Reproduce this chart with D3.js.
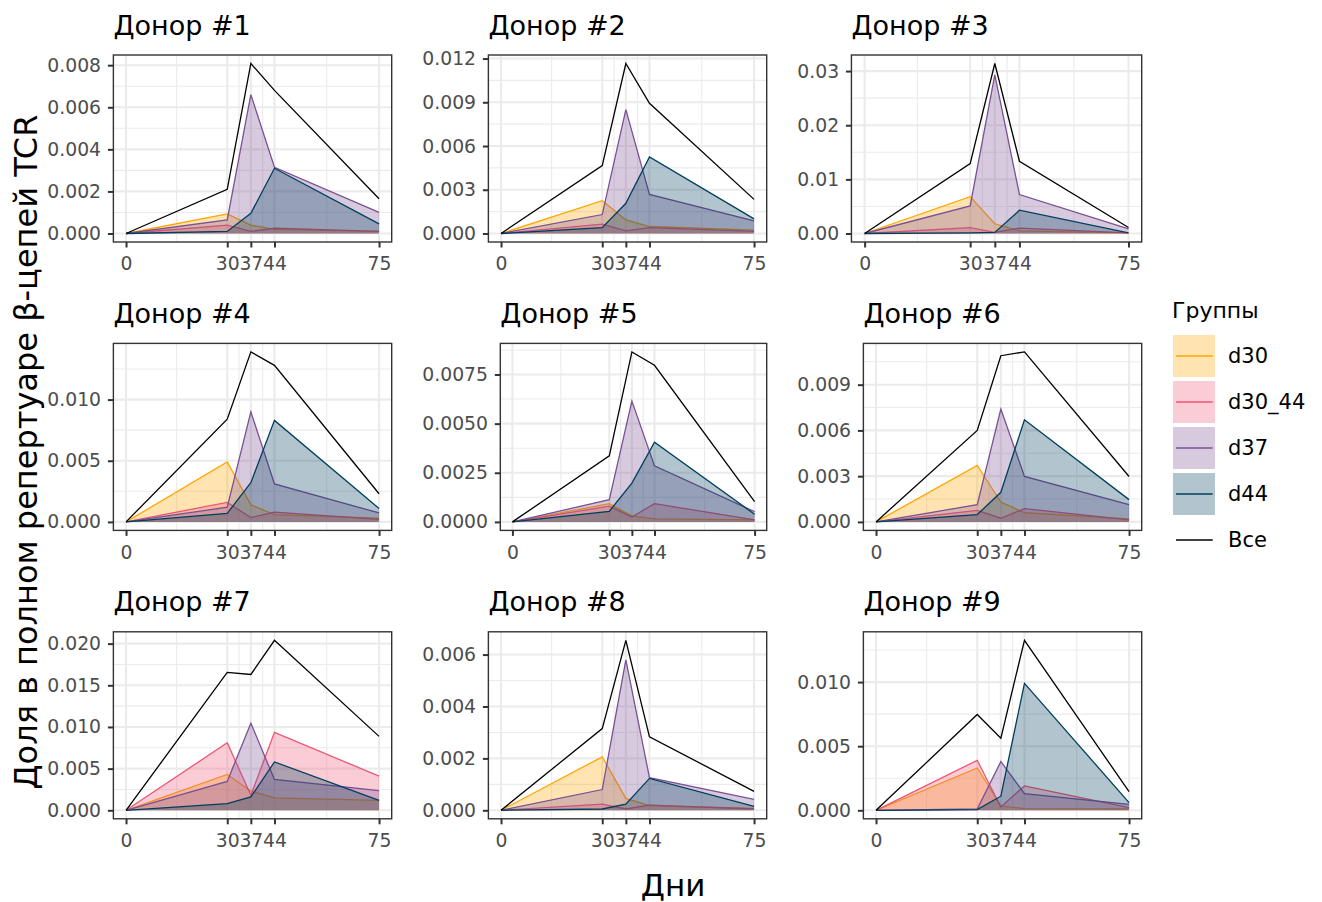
<!DOCTYPE html>
<html>
<head>
<meta charset="utf-8">
<script src="https://cdnjs.cloudflare.com/ajax/libs/d3/7.8.5/d3.min.js"></script>
<style>
  body { margin: 0; background: #fff; }
  svg { font-family: "DejaVu Sans", sans-serif; }
</style>
</head>
<body>
<div id="chart"></div>
<script>
var days = [0, 30, 37, 44, 75];
var groups = ["d30", "d30_44", "d37", "d44"];
var donors = ["Донор #1", "Донор #2", "Донор #3", "Донор #4", "Донор #5",
  "Донор #6", "Донор #7", "Донор #8", "Донор #9"];

// one row of values (per day) for each donor
var d30 = [
  [0, 0.00093, 0.0004, 0.0002, 0.0001],
  [0, 0.00225, 0.00093, 0.00048, 0.00023],
  [0, 0.0068, 0.0018, 0.0005, 0.0001],
  [0, 0.0049, 0.0014, 0.0006, 0.0003],
  [0, 0.00093, 0.0003, 0.00015, 0.0001],
  [0, 0.0037, 0.0013, 0.0006, 0.0002],
  [0, 0.0043, 0.0023, 0.0015, 0.0012],
  [0, 0.00206, 0.00046, 0.00018, 0.00007],
  [0, 0.0033, 0.00034, 0.00013, 0.0001]
];
var d30_44 = [
  [0, 0.0004, 0.0001, 0.00025, 0.0001],
  [0, 0.00064, 0.00018, 0.0004, 0.00014],
  [0, 0.0011, 0.0002, 0.001, 0.0001],
  [0, 0.0016, 0.00035, 0.0008, 0.0002],
  [0, 0.0008, 0.00025, 0.00093, 0.0001],
  [0, 0.00076, 0.00024, 0.00087, 0.00013],
  [0, 0.0081, 0.0018, 0.00935, 0.0041],
  [0, 0.00024, 0.00005, 0.0002, 0.00005],
  [0, 0.0039, 0.00026, 0.0019, 0.0002]
];
var d37 = [
  [0, 0.00065, 0.0066, 0.00315, 0.0010],
  [0, 0.0013, 0.0085, 0.00268, 0.00086],
  [0, 0.0051, 0.0293, 0.0072, 0.00086],
  [0, 0.0012, 0.0090, 0.0031, 0.00073],
  [0, 0.00113, 0.00615, 0.00285, 0.00052],
  [0, 0.00113, 0.0074, 0.00298, 0.00113],
  [0, 0.00346, 0.01046, 0.0037, 0.00235],
  [0, 0.0008, 0.0058, 0.00126, 0.00042],
  [0, 0.0001, 0.0038, 0.0013, 0.00047]
];
var d44 = [
  [0, 0.0001, 0.00096, 0.0031, 0.00046],
  [0, 0.0004, 0.00207, 0.00525, 0.001],
  [0, 0.0001, 0.0002, 0.0043, 0.0001],
  [0, 0.0007, 0.0032, 0.0083, 0.0011],
  [0, 0.00054, 0.00197, 0.00406, 0.00039],
  [0, 0.00048, 0.00194, 0.0067, 0.00146],
  [0, 0.0008, 0.0016, 0.0058, 0.0012],
  [0, 0.00005, 0.00024, 0.00123, 0.00015],
  [0, 0.00005, 0.0011, 0.0099, 0.0006]
];
var total = [
  [0, 0.0021, 0.00808, 0.0068, 0.00165],
  [0, 0.00466, 0.01166, 0.00893, 0.00234],
  [0, 0.0129, 0.0314, 0.01335, 0.0011],
  [0, 0.0084, 0.0139, 0.0128, 0.0023],
  [0, 0.00336, 0.00865, 0.00797, 0.00103],
  [0, 0.0060, 0.0109, 0.01115, 0.00298],
  [0, 0.01654, 0.0163, 0.0204, 0.00887],
  [0, 0.00315, 0.00655, 0.00283, 0.00073],
  [0, 0.00747, 0.00563, 0.01326, 0.00145]
];

var yTicks = [
  [0, 0.002, 0.004, 0.006, 0.008],
  [0, 0.003, 0.006, 0.009, 0.012],
  [0, 0.01, 0.02, 0.03],
  [0, 0.005, 0.010],
  [0, 0.0025, 0.005, 0.0075],
  [0, 0.003, 0.006, 0.009],
  [0, 0.005, 0.010, 0.015, 0.020],
  [0, 0.002, 0.004, 0.006],
  [0, 0.005, 0.010]
];
var yDigits = [3, 3, 2, 3, 4, 3, 3, 3, 3];

var groupData = {d30: d30, d30_44: d30_44, d37: d37, d44: d44};

var svgWidth = 1322;
var svgHeight = 902;

var cellW = 375;
var cellLeft0 = 36.3;
var panelTop0 = 55;
var rowStep = 288.4;
var panelH = 187;
var panelRightOffset = 355.4;

var color = d3.scaleOrdinal()
  .domain(groups)
  .range(["#ffa600", "#ef5675", "#7a5195", "#003f5c"]);

var svg = d3.select("#chart")
  .append("svg")
  .attr("width", svgWidth)
  .attr("height", svgHeight);

svg.append("rect")
  .attr("width", svgWidth)
  .attr("height", svgHeight)
  .attr("fill", "#fff");

function minorBreaks(breaks, lo, hi) {
  var out = [];
  var n = breaks.length;
  out.push(breaks[0] - (breaks[1] - breaks[0]) / 2);
  for (var k = 1; k < n; k++) out.push((breaks[k - 1] + breaks[k]) / 2);
  out.push(breaks[n - 1] + (breaks[n - 1] - breaks[n - 2]) / 2);
  return out.filter(v => v > lo && v < hi);
}

function styleAxis(ax) {
  ax.select(".domain").remove();
  ax.selectAll("line").attr("stroke", "#333333").attr("stroke-width", 2);
  ax.selectAll("text")
    .attr("fill", "#4d4d4d")
    .style("font-family", "DejaVu Sans")
    .style("font-size", "18.8px");
}

donors.forEach(function(name, i) {
  var col = i % 3;
  var row = Math.floor(i / 3);
  var cellX = cellLeft0 + col * cellW;
  var top = panelTop0 + row * rowStep;
  var bottom = top + panelH;
  var right = cellX + panelRightOffset;

  var series = groups.map(g => ({key: g, values: groupData[g][i]}));
  var ymax = d3.max(series.map(s => s.values).concat([total[i]]), v => d3.max(v));

  var yLinearScale = d3.scaleLinear()
    .domain([-0.05 * ymax, 1.05 * ymax])
    .range([bottom, top]);

  var fmt = d3.format("." + yDigits[i] + "f");

  var chartGroup = svg.append("g");

  // y axis first, to know how wide the labels are
  var yAxis = chartGroup.append("g")
    .call(d3.axisLeft(yLinearScale).tickValues(yTicks[i]).tickFormat(fmt)
      .tickSize(5.5).tickPadding(6.8));
  styleAxis(yAxis);
  var labW = d3.max(yAxis.selectAll("text").nodes(), n => n.getComputedTextLength());
  var left = cellX + 11 + labW + 12.3;
  yAxis.attr("transform", `translate(${left}, 0)`);

  var xLinearScale = d3.scaleLinear()
    .domain([-3.75, 78.75])
    .range([left, right]);

  var grid = chartGroup.insert("g", ":first-child");
  grid.append("rect")
    .attr("x", left).attr("y", top)
    .attr("width", right - left).attr("height", panelH)
    .attr("fill", "#fff");

  var xMinor = minorBreaks(days, 0, 75);
  var yMinor = minorBreaks(yTicks[i], -0.05 * ymax, 1.05 * ymax);

  grid.selectAll(".xminor").data(xMinor).enter().append("line")
    .attr("x1", d => xLinearScale(d)).attr("x2", d => xLinearScale(d))
    .attr("y1", top).attr("y2", bottom)
    .attr("stroke", "#ebebeb").attr("stroke-width", 1.1);
  grid.selectAll(".yminor").data(yMinor).enter().append("line")
    .attr("x1", left).attr("x2", right)
    .attr("y1", d => yLinearScale(d)).attr("y2", d => yLinearScale(d))
    .attr("stroke", "#ebebeb").attr("stroke-width", 1.1);
  grid.selectAll(".xmajor").data(days).enter().append("line")
    .attr("x1", d => xLinearScale(d)).attr("x2", d => xLinearScale(d))
    .attr("y1", top).attr("y2", bottom)
    .attr("stroke", "#ebebeb").attr("stroke-width", 2.1);
  grid.selectAll(".ymajor").data(yTicks[i]).enter().append("line")
    .attr("x1", left).attr("x2", right)
    .attr("y1", d => yLinearScale(d)).attr("y2", d => yLinearScale(d))
    .attr("stroke", "#ebebeb").attr("stroke-width", 2.1);

  var area = d3.area()
    .x((d, j) => xLinearScale(days[j]))
    .y0(yLinearScale(0))
    .y1(d => yLinearScale(d));
  var line = d3.line()
    .x((d, j) => xLinearScale(days[j]))
    .y(d => yLinearScale(d));

  series.forEach(function(s) {
    chartGroup.append("path")
      .attr("d", area(s.values))
      .attr("fill", color(s.key))
      .attr("fill-opacity", 0.3);
    chartGroup.append("path")
      .attr("d", line(s.values))
      .attr("fill", "none")
      .attr("stroke", color(s.key))
      .attr("stroke-width", 1.3);
  });

  chartGroup.append("path")
    .attr("d", line(total[i]))
    .attr("fill", "none")
    .attr("stroke", "#000")
    .attr("stroke-width", 1.3);

  chartGroup.append("rect")
    .attr("x", left).attr("y", top)
    .attr("width", right - left).attr("height", panelH)
    .attr("fill", "none")
    .attr("stroke", "#333333")
    .attr("stroke-width", 1.4);

  var xAxis = chartGroup.append("g")
    .attr("transform", `translate(0, ${bottom})`)
    .call(d3.axisBottom(xLinearScale).tickValues(days).tickFormat(d3.format("d"))
      .tickSize(5.5).tickPadding(9.4));
  styleAxis(xAxis);

  chartGroup.append("text")
    .attr("x", left)
    .attr("y", top - 20.5)
    .style("font-size", "27px")
    .attr("fill", "#000")
    .text(name);
});

// axis titles
svg.append("text")
  .attr("transform", "translate(37, 452) rotate(-90)")
  .attr("text-anchor", "middle")
  .style("font-size", "32px")
  .text("Доля в полном репертуаре β-цепей TCR");

svg.append("text")
  .attr("x", 673)
  .attr("y", 896)
  .attr("text-anchor", "middle")
  .style("font-size", "31px")
  .text("Дни");

// legend
var legend = svg.append("g")
  .attr("transform", "translate(1172, 0)");

legend.append("text")
  .attr("x", 0)
  .attr("y", 318)
  .style("font-size", "22px")
  .text("Группы");

var keys = legend.selectAll(".key")
  .data(groups)
  .enter()
  .append("g")
  .attr("transform", (d, k) => `translate(0, ${335 + k * 46})`);

keys.append("rect")
  .attr("x", 1).attr("y", 0)
  .attr("width", 42).attr("height", 42)
  .attr("fill", d => color(d))
  .attr("fill-opacity", 0.3);
keys.append("line")
  .attr("x1", 4).attr("x2", 40.7)
  .attr("y1", 21).attr("y2", 21)
  .attr("stroke", d => color(d))
  .attr("stroke-width", 1.3);
keys.append("text")
  .attr("x", 56).attr("y", 21).attr("dy", "0.35em")
  .style("font-size", "21px")
  .text(d => d);

var allKey = legend.append("g")
  .attr("transform", `translate(0, ${335 + 4 * 46})`);
allKey.append("line")
  .attr("x1", 4).attr("x2", 40.7)
  .attr("y1", 21).attr("y2", 21)
  .attr("stroke", "#000")
  .attr("stroke-width", 1.3);
allKey.append("text")
  .attr("x", 56).attr("y", 21).attr("dy", "0.35em")
  .style("font-size", "21px")
  .text("Все");
</script>
</body>
</html>
